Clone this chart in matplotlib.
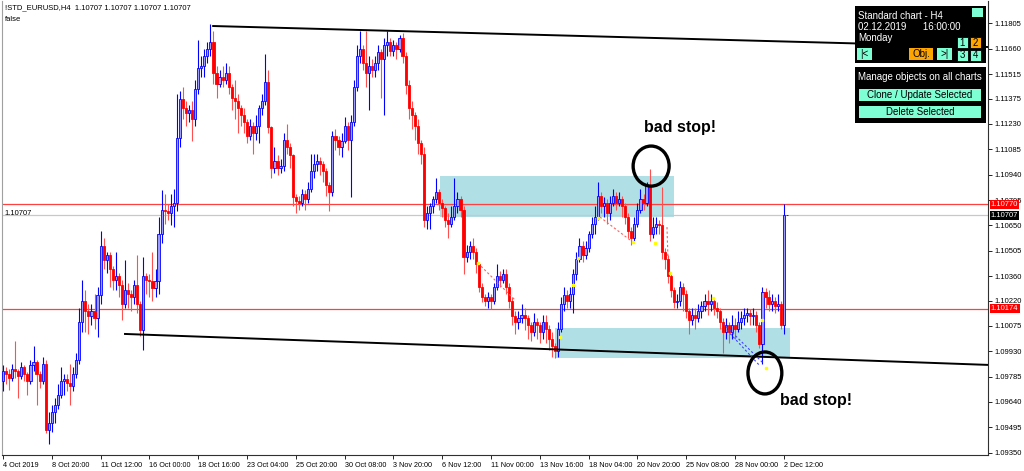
import numpy as np
import matplotlib
matplotlib.use("Agg")
import matplotlib.pyplot as plt
from matplotlib.patches import Rectangle, Ellipse
from matplotlib.transforms import blended_transform_factory

plt.rcParams['font.family'] = ['Liberation Sans', 'DejaVu Sans']

# precios en pips sobre 1.0900 (velas H4)
base = 1.09
first_open = 76
closes = [82, 80, 78, 83, 82, 79, 84, 80, 76, 85, 87, 80, 76, 86, 48, 52, 58, 62, 68, 76,
          77, 75, 73, 80, 88, 110, 122, 116, 113, 116, 112, 125, 153, 145, 148, 140, 134, 136, 131, 120,
          128, 126, 124, 131, 120, 105, 136, 134, 133, 129, 133, 160, 174, 173, 172, 176, 178, 215, 237, 232,
          229, 231, 226, 243, 255, 256, 262, 266, 270, 252, 246, 250, 248, 252, 244, 238, 236, 232, 228, 224,
          216, 222, 218, 222, 232, 236, 247, 221, 198, 202, 198, 199, 214, 210, 205, 181, 179, 178, 183, 180,
          186, 196, 200, 202, 200, 196, 188, 184, 216, 214, 210, 213, 222, 214, 224, 244, 262, 266, 258, 252,
          256, 254, 258, 264, 260, 268, 270, 265, 268, 266, 272, 262, 245, 232, 228, 222, 212, 206, 168, 172,
          176, 180, 184, 178, 175, 168, 166, 170, 176, 180, 174, 147, 150, 153, 150, 143, 130, 124, 122, 124,
          122, 130, 136, 134, 137, 130, 122, 113, 110, 112, 114, 112, 108, 104, 110, 108, 104, 110, 106, 100,
          96, 93, 106, 120, 125, 122, 126, 137, 146, 153, 148, 152, 160, 166, 170, 182, 176, 178, 172, 178,
          182, 178, 180, 176, 170, 162, 158, 166, 174, 180, 178, 188, 160, 164, 166, 165, 150, 146, 136, 128,
          121, 122, 130, 126, 116, 111, 114, 112, 116, 119, 122, 120, 122, 118, 116, 110, 104, 108, 104, 108,
          106, 110, 112, 114, 115, 113, 114, 108, 97, 127, 124, 120, 122, 119, 120, 108, 170.7, 170.7]
highs = [85, 84, 83, 86, 99, 83, 87, 85, 81, 88, 96, 88, 82, 90, 88, 58, 62, 66, 74, 84,
         80, 80, 86, 84, 92, 118, 134, 128, 120, 120, 126, 130, 162, 158, 150, 150, 142, 150, 138, 134,
         145, 132, 128, 134, 148, 122, 147, 138, 137, 150, 140, 170, 185, 183, 177, 183, 186, 240, 242, 244,
         236, 234, 236, 248, 271, 262, 266, 270, 280, 276, 256, 254, 256, 258, 256, 246, 248, 240, 234, 232,
         226, 226, 224, 228, 234, 240, 263, 254, 222, 210, 205, 203, 218, 223, 212, 206, 183, 182, 186, 185,
         190, 206, 206, 206, 204, 202, 198, 190, 219, 220, 216, 218, 227, 224, 228, 248, 268, 276, 268, 276,
         262, 260, 262, 268, 266, 272, 276, 272, 271, 270, 274, 275, 264, 248, 236, 230, 226, 214, 210, 176,
         178, 182, 192, 186, 180, 176, 172, 176, 192, 184, 182, 176, 154, 156, 158, 152, 144, 132, 126, 127,
         126, 132, 143, 139, 140, 140, 132, 124, 116, 116, 120, 118, 114, 110, 115, 112, 110, 114, 114, 108,
         104, 98, 110, 124, 130, 128, 130, 140, 150, 158, 156, 156, 162, 170, 176, 190, 184, 181, 180, 182,
         186, 184, 184, 182, 178, 172, 164, 170, 178, 186, 183, 190, 197, 170, 170, 168, 187, 152, 148, 138,
         130, 126, 133, 132, 128, 118, 118, 118, 120, 122, 126, 128, 126, 124, 121, 118, 112, 112, 110, 114,
         112, 116, 116, 118, 118, 117, 118, 116, 110, 130, 129, 128, 126, 124, 126, 122, 177, 170.7]
lows = [70, 74, 71, 76, 78, 66, 77, 76, 68, 74, 82, 62, 72, 74, 46, 40, 47, 52, 60, 66,
        68, 70, 62, 70, 78, 86, 104, 104, 103, 108, 106, 101, 120, 140, 138, 130, 128, 128, 124, 111,
        118, 118, 116, 120, 115, 102, 94, 126, 124, 122, 124, 126, 155, 166, 168, 165, 164, 173, 210, 226,
        222, 224, 213, 222, 240, 250, 250, 258, 262, 246, 238, 244, 244, 246, 240, 231, 226, 218, 222, 218,
        212, 214, 206, 214, 212, 228, 234, 218, 192, 195, 194, 195, 196, 206, 198, 176, 172, 174, 176, 174,
        178, 184, 192, 196, 194, 190, 182, 173, 182, 208, 205, 204, 212, 208, 181, 222, 242, 258, 254, 244,
        231, 250, 250, 254, 238, 228, 262, 262, 262, 260, 264, 258, 240, 226, 220, 214, 206, 200, 164, 163,
        163, 172, 178, 174, 170, 164, 158, 164, 168, 172, 170, 137, 144, 146, 146, 138, 127, 121, 119, 118,
        117, 120, 128, 130, 132, 126, 118, 108, 103, 106, 109, 105, 100, 99, 102, 100, 98, 100, 98, 94,
        90, 89, 90, 104, 116, 118, 118, 115, 134, 144, 144, 146, 150, 158, 160, 168, 172, 170, 166, 168,
        176, 174, 176, 170, 166, 158, 154, 156, 164, 172, 174, 176, 156, 158, 160, 160, 146, 140, 132, 124,
        118, 118, 119, 116, 112, 103, 108, 106, 110, 112, 116, 114, 116, 114, 112, 106, 92, 100, 98, 100,
        100, 104, 106, 108, 110, 108, 108, 104, 95, 86, 118, 116, 116, 115, 116, 106, 103, 170.7]

# etiquetas del eje de tiempo (cada 16 velas)
time_labels = ["4 Oct 2019", "8 Oct 20:00", "11 Oct 12:00", "16 Oct 00:00", "18 Oct 16:00",
               "23 Oct 04:00", "25 Oct 20:00", "30 Oct 08:00", "3 Nov 20:00", "6 Nov 12:00",
               "11 Nov 00:00", "13 Nov 16:00", "18 Nov 04:00", "20 Nov 20:00", "25 Nov 08:00",
               "28 Nov 00:00", "2 Dec 12:00"]
price_ticks = [1.11805, 1.11660, 1.11515, 1.11375, 1.11230, 1.11085, 1.10940, 1.10795, 1.10650,
               1.10505, 1.10360, 1.10220, 1.10075, 1.09930, 1.09785, 1.09640, 1.09495, 1.09350]

# objetos dibujados (vela, precio)
upper_trend = [(68.9, 1.11790), (323.0, 1.11670)]
lower_trend = [(40.0, 1.10029), (323.0, 1.09852)]
zone_top = (143.3, 220.0, 1.10698, 1.10932)
zone_bottom = (181.0, 258.0, 1.09891, 1.10063)
red_levels = [1.10770, 1.10174]
last_price = 1.10707
stop_circles = [(212.5, 1.10989, 11.8, 0.00229), (249.8, 1.09806, 11.1, 0.00240)]
stop_texts = [(221.9, 1.11212), (266.5, 1.09651)]
# historial de operaciones
trade_lines_red = [((155.7, 143.4), (167.9, 122.3)), ((195.7, 169.8), (205.6, 156.6)),
                   ((217.7, 164.0), (218.0, 147.0))]
trade_lines_blue = [((236.0, 109.0), (249.2, 86.3)), ((237.4, 105.0), (248.2, 84.6))]
yellow_marks_x = [155.7, 188.5, 186.9, 182.6, 195.0, 206.6, 213.8, 218.7, 232.8, 248.9, 250.0]
yellow_marks_v = [143.4, 146.3, 131.0, 101.0, 169.0, 155.5, 155.0, 137.8, 123.5, 110.9, 83.5]


W, H = 1024, 471
fig = plt.figure(figsize=(W / 100, H / 100), dpi=100)
fig.patch.set_facecolor('white')
ax = fig.add_axes([2 / W, 16 / H, 986 / W, 454 / H])

c = base + np.array(closes) / 10000
o = base + np.array([first_open] + closes[:-1]) / 10000
h = base + np.array(highs) / 10000
l = base + np.array(lows) / 10000
h = np.maximum(h, np.maximum(o, c))
l = np.minimum(l, np.minimum(o, c))
x = np.arange(len(c))
up = c >= o

# zonas
for x0, x1, p0, p1 in [zone_top, zone_bottom]:
    ax.add_patch(Rectangle((x0, p0), x1 - x0, p1 - p0, facecolor='#b0e0e6', edgecolor='none', zorder=0))

for lv in red_levels:
    ax.axhline(lv, color='#ff4040', lw=0.9, zorder=1)
ax.axhline(last_price, color='#c8c8c8', lw=0.9, zorder=1)

# velas
ax.vlines(x[up], l[up], h[up], color='blue', lw=0.8, zorder=3)
ax.vlines(x[~up], l[~up], h[~up], color='#ff5050', lw=0.8, zorder=3)
ax.bar(x[up], (c - o)[up], bottom=o[up], width=0.7, color='#9c9cff', edgecolor='blue', linewidth=0.6, zorder=4)
ax.bar(x[~up], (c - o)[~up], bottom=o[~up], width=0.7, color='red', edgecolor='red', linewidth=0.6, zorder=4)

# lineas de tendencia
for tl in [upper_trend, lower_trend]:
    ax.plot([tl[0][0], tl[1][0]], [tl[0][1], tl[1][1]], color='black', lw=1.4, zorder=5)

for (a, b) in trade_lines_red:
    ax.plot([a[0], b[0]], [base + a[1] / 10000, base + b[1] / 10000], color='#ff6060', lw=0.8, ls=(0, (2, 2)), zorder=5)
for (a, b) in trade_lines_blue:
    ax.plot([a[0], b[0]], [base + a[1] / 10000, base + b[1] / 10000], color='#4040ff', lw=0.8, ls=(0, (2, 2)), zorder=5)
ax.plot(yellow_marks_x, base + np.array(yellow_marks_v) / 10000, ls='none', marker='s', ms=2,
        color='yellow', mec='yellow', zorder=6)

for cx, cy, ew, eh in stop_circles:
    ax.add_patch(Ellipse((cx, cy), ew, eh, facecolor='none', edgecolor='black', lw=2.4, zorder=7))
for tx, ty in stop_texts:
    ax.text(tx, ty, "bad stop!", fontsize=11.5, fontweight='bold', ha='center', va='center', zorder=8)

ax.set_xlim(-0.33, 322.95)
ax.set_ylim(1.093368, 1.119331)

# ejes
ax.yaxis.tick_right()
ax.set_yticks(price_ticks)
ax.set_yticklabels(["%.5f" % p for p in price_ticks])
ax.tick_params(axis='y', direction='out', length=3, width=0.6, pad=2, labelsize=5.5, colors='black')
ax.set_xticks(np.arange(len(time_labels)) * 16)
ax.set_xticklabels(time_labels, ha='left')
ax.tick_params(axis='x', direction='out', length=3, width=0.6, pad=2, labelsize=5.2)
ax.spines['top'].set_visible(False)
ax.spines['left'].set_color('#a0a0a0')
ax.spines['bottom'].set_color('#303030')
ax.spines['right'].set_color('#303030')
for sp in ax.spines.values():
    sp.set_linewidth(0.8)

# etiquetas de precio
tr = blended_transform_factory(ax.transAxes, ax.transData)
for lv, bg in [(red_levels[0], 'red'), (last_price, 'black'), (red_levels[1], 'red')]:
    ax.text(1.003, lv, "%.5f" % lv, transform=tr, fontsize=5.5, color='white', va='center', ha='left',
            bbox=dict(boxstyle='square,pad=0.15', facecolor=bg, edgecolor='none'), zorder=10, clip_on=False)
ax.text(0.003, last_price + 0.00012, "1.10707", transform=tr, fontsize=5.5, va='center', ha='left')

ax.text(0.003, 0.985, "!STD_EURUSD,H4  1.10707 1.10707 1.10707 1.10707", transform=ax.transAxes,
        fontsize=5.5, va='center', ha='left')
ax.text(0.003, 0.96, "false", transform=ax.transAxes, fontsize=5.5, va='center', ha='left')


# panel de control (coordenadas en pixeles)
def prect(x0, y0, w, hh, fc, ec='none', lw=0.8):
    fig.add_artist(Rectangle((x0 / W, 1 - (y0 + hh) / H), w / W, hh / H, transform=fig.transFigure,
                             facecolor=fc, edgecolor=ec, linewidth=lw, zorder=20))


def ptext(x0, y0, s, color='white', size=7, ha='left'):
    fig.text(x0 / W, 1 - y0 / H, s, color=color, fontsize=size, ha=ha, va='center', zorder=21)


prect(855, 6, 131, 57, 'black')
ptext(858, 16, "Standard chart - H4")
ptext(858, 27, "02.12.2019      16:00:00")
ptext(858, 38, "Monday")
prect(972, 8, 11, 9, '#7fffd4')
prect(857, 48, 15, 12, '#7fffd4')
ptext(864.5, 54, "|<", color='black', ha='center')
prect(909, 48, 24, 12, '#ffa500')
ptext(921, 54, "Obj.", color='black', ha='center')
prect(937, 48, 15, 12, '#7fffd4')
ptext(944.5, 54, ">|", color='black', ha='center')
for lab, gx, gy, fc in [("1", 957, 37, '#7fffd4'), ("2", 970, 37, '#ffa500'),
                        ("3", 957, 50, '#7fffd4'), ("4", 970, 50, '#7fffd4')]:
    prect(gx, gy, 11, 11, fc, ec='black', lw=0.6)
    ptext(gx + 5.5, gy + 5.5, lab, color='black', ha='center')

prect(855, 67, 131, 56, 'black')
ptext(858, 77, "Manage objects on all charts")
prect(859, 89, 122, 12, '#7fffd4')
ptext(920, 95, "Clone / Update Selected", color='black', ha='center')
prect(859, 106, 122, 12, '#7fffd4')
ptext(920, 112, "Delete Selected", color='black', ha='center')

fig.savefig("out.png", dpi=100)
